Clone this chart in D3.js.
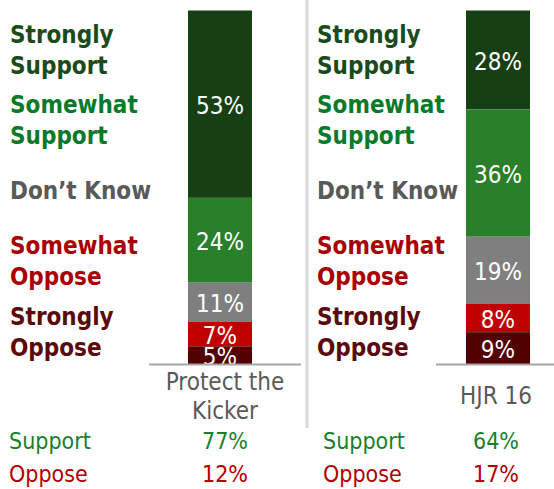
<!DOCTYPE html>
<html><head><meta charset="utf-8">
<script src="https://cdn.jsdelivr.net/npm/d3@7"></script>
<style>
html,body{margin:0;padding:0;background:#fff;}
svg{display:block;font-family:"DejaVu Sans Condensed","DejaVu Sans",sans-serif;font-stretch:condensed;}
</style></head>
<body>
<svg id="chart" width="554" height="489"></svg>
<script>
const categories = ["Protect the Kicker", "HJR 16"];
const categoryLines = [["Protect the", "Kicker"], ["HJR 16"]];
const segments = ["Strongly Support", "Somewhat Support", "Don’t Know", "Somewhat Oppose", "Strongly Oppose"];
const segmentLines = [["Strongly", "Support"], ["Somewhat", "Support"], ["Don’t Know"], ["Somewhat", "Oppose"], ["Strongly", "Oppose"]];
const protectValues = [53, 24, 11, 7, 5];
const hjrValues = [28, 36, 19, 8, 9];
const supportTotals = [77, 64];
const opposeTotals = [12, 17];
const summaryLabels = ["Support", "Oppose"];

const seriesValues = [protectValues, hjrValues];
const barColors = ["#173f14", "#2a7f2a", "#7f7f7f", "#c00000", "#520000"];
const labelColors = ["#1b4a1b", "#0a7a2a", "#595959", "#a80000", "#5a0a0a"];

const svg = d3.select("#chart");
const baseY = 364;
const y = d3.scaleLinear().domain([0, 100]).range([baseY, 10.5]);
const x = d3.scalePoint().domain(categories).range([220, 498]);
const barW = 64;
const cx = c => x(c);

// separator
svg.append("line").attr("x1", 307).attr("x2", 307).attr("y1", 0).attr("y2", 428)
  .attr("stroke", "#d9d9d9").attr("stroke-width", 3);

const defs = svg.append("defs");
defs.append("clipPath").attr("id", "plotclip").append("rect")
  .attr("x", 0).attr("y", 0).attr("width", 554).attr("height", baseY);

const labelX = [10, 317];
const labelBaselines = [[43, 74], [113, 144], [199], [254, 285], [325, 356]];
const baseLineExt = [[149, 301], [436, 560]];
const textShift = [5, -2];

categories.forEach((cat, ci) => {
  const vals = seriesValues[ci];
  const ends = d3.cumsum(vals);
  const g = svg.append("g");
  // segment labels
  segmentLines.forEach((lines, si) => {
    lines.forEach((ln, li) => {
      g.append("text").attr("x", labelX[ci]).attr("y", labelBaselines[si][li])
        .attr("fill", labelColors[si]).attr("font-size", 24).attr("font-weight", "bold")
        .text(ln);
    });
  });
  // bars (stack from top)
  const bars = g.append("g");
  const txt = g.append("g").attr("clip-path", "url(#plotclip)");
  vals.forEach((v, si) => {
    const top = y(100 - (ends[si] - v));
    const bot = y(100 - ends[si]);
    bars.append("rect").attr("x", cx(cat) - barW / 2).attr("y", top)
      .attr("width", barW).attr("height", bot - top).attr("fill", barColors[si]);
    txt.append("text").attr("x", cx(cat)).attr("y", (top + bot) / 2 + 2)
      .attr("text-anchor", "middle").attr("dominant-baseline", "central")
      .attr("fill", "#fff").attr("font-size", 24).text(v + "%");
  });
  // baseline
  g.append("line").attr("x1", baseLineExt[ci][0]).attr("x2", baseLineExt[ci][1])
    .attr("y1", baseY + 0.5).attr("y2", baseY + 0.5).attr("stroke", "#a6a6a6").attr("stroke-width", 2);
  // category label
  const lines = categoryLines[ci];
  const lh = 29;
  const midY = 396;
  lines.forEach((ln, li) => {
    g.append("text").attr("x", cx(cat) + textShift[ci])
      .attr("y", midY + (li - (lines.length - 1) / 2) * lh)
      .attr("dominant-baseline", "central").attr("text-anchor", "middle")
      .attr("fill", "#595959").attr("font-size", 24).text(ln);
  });
  // summary
  const totals = [supportTotals[ci], opposeTotals[ci]];
  const sumColors = ["#1a7f2a", "#b00000"];
  const sumY = [449, 482];
  summaryLabels.forEach((lab, k) => {
    g.append("text").attr("x", labelX[ci] - 1 + (ci === 1 ? 7 : 0)).attr("y", sumY[k])
      .attr("fill", sumColors[k]).attr("font-size", 23).text(lab);
    g.append("text").attr("x", cx(cat) + textShift[ci]).attr("y", sumY[k])
      .attr("text-anchor", "middle").attr("fill", sumColors[k]).attr("font-size", 23)
      .text(totals[k] + "%");
  });
});
</script>
</body></html>
